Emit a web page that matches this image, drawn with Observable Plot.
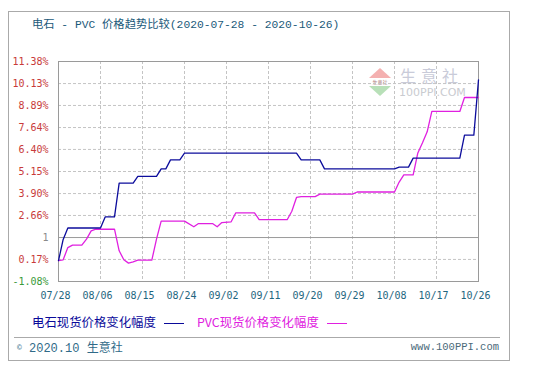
<!DOCTYPE html>
<html><head><meta charset="utf-8">
<script src="https://cdn.jsdelivr.net/npm/d3@7"></script>
<script src="https://cdn.jsdelivr.net/npm/@observablehq/plot@0.6"></script>
<style>
body{margin:0;background:#fff;width:542px;height:370px;overflow:hidden;position:relative;font-family:"Liberation Mono","Noto Sans CJK SC",monospace;}
#frame{position:absolute;left:8px;top:11px;width:500px;height:348px;border:1px solid #aaa;}
#title{position:absolute;left:32px;top:17px;font-size:11.3px;line-height:16px;color:#1b5a7a;white-space:nowrap;}
#chart{position:absolute;left:0;top:0;}
#wm{position:absolute;left:0;top:0;width:542px;height:120px;}
#wm div{white-space:nowrap;}
.tri{position:absolute;width:0;height:0;}
#legend{position:absolute;left:32px;top:314px;font-size:12.4px;line-height:16px;white-space:nowrap;}
#legend .ln{display:inline-block;width:20px;height:0;vertical-align:middle;margin-left:8px;margin-right:13px;}
#sep{position:absolute;left:14px;top:337px;width:486px;border-top:1px solid #aaa;}
#foot{position:absolute;left:17px;top:339px;font-size:12px;line-height:16px;color:#2f6a88;white-space:nowrap;}
#www{position:absolute;right:43px;top:339px;font-size:10.5px;line-height:16px;color:#4a6a7a;white-space:nowrap;}
</style></head>
<body>
<div id="frame"></div>
<div id="title">电石 - PVC 价格趋势比较(2020-07-28 - 2020-10-26)</div>
<div id="wm">
  <div class="tri" style="left:369px;top:68px;border-left:11px solid transparent;border-right:11px solid transparent;border-bottom:10px solid #f4b0b0;"></div>
  <div style="position:absolute;left:369px;top:79px;width:22px;height:6px;font-size:5px;line-height:6px;color:#b08080;text-align:center;font-family:'Noto Sans CJK SC';overflow:hidden;">生意社</div>
  <div class="tri" style="left:369px;top:86px;border-left:11px solid transparent;border-right:11px solid transparent;border-top:10px solid #b8e0b8;"></div>
  <div style="position:absolute;left:400px;top:65px;width:70px;font-size:16px;line-height:20px;letter-spacing:5px;color:#c9cbd9;font-family:'Noto Sans CJK SC';">生意社</div>
  <div style="position:absolute;left:399px;top:87px;font-size:11px;line-height:12px;color:#c9cbd0;font-family:'DejaVu Sans';">100PPI.COM</div>
</div>
<div id="chart"></div>
<div id="legend"><span style="color:#0a0a9a;font-family:'Noto Sans CJK SC'">电石现货价格变化幅度</span><span class="ln" style="border-top:1.5px solid #0a0a9a"></span><span style="color:#e020e0;font-family:'Noto Sans CJK SC'">PVC现货价格变化幅度</span><span class="ln" style="border-top:1.5px solid #e020e0"></span></div>
<div id="sep"></div>
<div id="foot"><span style="font-size:8px;vertical-align:2px">©</span> 2020.10 <span style="font-family:'Noto Sans CJK SC'">生意社</span></div>
<div id="www">www.100PPI.com</div>
<script>
// 电石现货价格变化幅度 (%)
const ceDates = ["2020-07-28","2020-07-29","2020-07-30","2020-08-06","2020-08-07","2020-08-09","2020-08-10","2020-08-13","2020-08-14","2020-08-18","2020-08-19","2020-08-20","2020-08-21","2020-08-23","2020-08-24","2020-09-17","2020-09-18","2020-09-22","2020-09-23","2020-10-08","2020-10-09","2020-10-11","2020-10-12","2020-10-22","2020-10-23","2020-10-25","2020-10-26"];
const ceValues = [0.1,1.3,1.95,1.95,2.58,2.58,4.49,4.49,4.87,4.87,5.30,5.30,5.81,5.81,6.19,6.19,5.81,5.81,5.30,5.30,5.40,5.40,5.91,5.91,7.21,7.21,10.34];
// PVC现货价格变化幅度 (%)
const pvcDates = ["2020-07-28","2020-07-29","2020-07-30","2020-07-31","2020-08-02","2020-08-03","2020-08-04","2020-08-05","2020-08-09","2020-08-10","2020-08-11","2020-08-12","2020-08-13","2020-08-14","2020-08-17","2020-08-18","2020-08-19","2020-08-24","2020-08-26","2020-08-27","2020-08-30","2020-08-31","2020-09-01","2020-09-03","2020-09-04","2020-09-08","2020-09-09","2020-09-15","2020-09-16","2020-09-17","2020-09-18","2020-09-21","2020-09-22","2020-09-29","2020-09-30","2020-10-08","2020-10-09","2020-10-10","2020-10-12","2020-10-13","2020-10-14","2020-10-15","2020-10-16","2020-10-22","2020-10-23","2020-10-26"];
const pvcValues = [0.1,0.15,0.84,0.98,0.98,1.32,1.79,1.88,1.88,0.66,0.15,-0.04,0.03,0.13,0.13,1.32,2.34,2.34,2.02,2.20,2.20,2.02,2.26,2.30,2.81,2.81,2.42,2.42,2.9,3.68,3.73,3.73,3.87,3.87,3.99,3.99,4.55,4.96,4.96,6.2,6.78,7.4,8.55,8.55,9.34,9.34];
// axis ticks
const xTickLabels = ["07/28","08/06","08/15","08/24","09/02","09/11","09/20","09/29","10/08","10/17","10/26"];
const yTickValues = [-1.08,0.17,1.41,2.66,3.90,5.15,6.40,7.64,8.89,10.13,11.38];
const yTickLabels = ["-1.08%","0.17%","1","2.66%","3.90%","5.15%","6.40%","7.64%","8.89%","10.13%","11.38%"];

const ce = ceDates.map((d, i) => ({date: new Date(d), v: ceValues[i]}));
const pvc = pvcDates.map((d, i) => ({date: new Date(d), v: pvcValues[i]}));
const xTicks = xTickLabels.map(l => new Date("2020-" + l.replace("/", "-")));
const yTicks = yTickValues.map((v, i) => ({v, label: yTickLabels[i], color: i === 0 ? "#3a9a3a" : i === 2 ? "#8a8a8a" : "#c83a3a"}));

const chart = Plot.plot({
  width: 542, height: 310,
  marginLeft: 58, marginRight: 64, marginTop: 61, marginBottom: 29,
  style: {background: "transparent", fontFamily: "'DejaVu Sans Mono', monospace", fontSize: "10px"},
  x: {type: "utc", domain: [new Date("2020-07-28"), new Date("2020-10-26")], axis: null},
  y: {domain: [-1.08, 11.38], axis: null},
  marks: [
    Plot.gridY(yTickValues.filter((v, i) => i !== 2), {stroke: "#c4c4c4", strokeOpacity: 1, strokeDasharray: "3,2"}),
    Plot.gridX(xTicks, {stroke: "#c4c4c4", strokeOpacity: 1, strokeDasharray: "3,2"}),
    Plot.ruleY([yTickValues[2]], {stroke: "#9a9a9a"}),
    Plot.frame({stroke: "#9a9a9a"}),
    Plot.line(pvc, {x: "date", y: "v", stroke: "#e020e0", strokeWidth: 1.3}),
    Plot.line(ce, {x: "date", y: "v", stroke: "#0c0c9c", strokeWidth: 1.3}),
    Plot.text(yTicks, {y: "v", frameAnchor: "left", dx: -10, textAnchor: "end", text: "label", fill: "color", fontSize: 10}),
    Plot.text(xTicks, {x: d => d, frameAnchor: "bottom", dy: 17, dx: -3, text: (d, i) => xTickLabels[i], fill: "#1f6680", fontSize: 10})
  ]
});
document.getElementById("chart").appendChild(chart);
</script>
</body></html>
